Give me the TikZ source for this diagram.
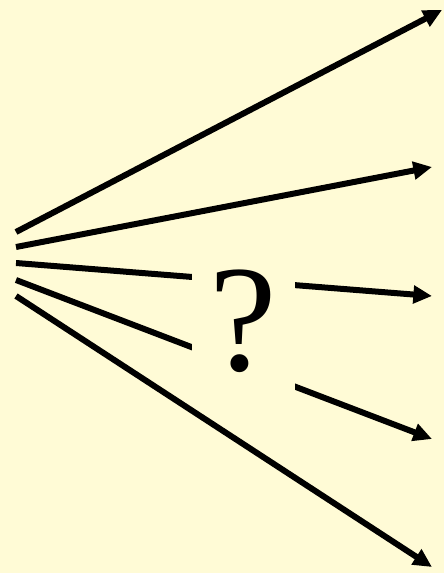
\documentclass[tikz,border=0pt]{standalone}
\usepackage{fontspec}
\setmainfont{Liberation Serif}
\usepackage{xcolor}
\usetikzlibrary{arrows.meta}
\definecolor{paper}{HTML}{FFFBD6}

\begin{document}
\begin{tikzpicture}[
        x=0.75pt, y=-0.75pt,
        ray/.style={line width=4.5pt, -{Triangle[length=14pt, width=13pt]}},
        query/.style={fill=paper, inner sep=0pt, minimum width=77pt, minimum height=120pt,
                     font=\fontsize{114}{114}\selectfont}
    ]
        % Background
        \fill[paper] (0, 0) rectangle (444, 573);
        \useasboundingbox (0, 0) rectangle (444, 573);

        % Start and end points
        \coordinate (s1) at (16, 232);
        \coordinate (s2) at (16, 247);
        \coordinate (s3) at (16, 263);
        \coordinate (s4) at (16, 280);
        \coordinate (s5) at (16, 296);
        \coordinate (e1) at (442, 10);
        \coordinate (e2) at (432, 167);
        \coordinate (e3) at (432, 296);
        \coordinate (e4) at (432, 439);
        \coordinate (e5) at (432, 567);

        % Arrows
        \draw[ray] (s1) -- (e1);
        \draw[ray] (s2) -- (e2);
        \draw[ray] (s3) -- (e3);
        \draw[ray] (s4) -- (e4);
        \draw[ray] (s5) -- (e5);

        % Question
        \node[query] (q) at (243.5, 321) {?};
    \end{tikzpicture}
\end{document}
